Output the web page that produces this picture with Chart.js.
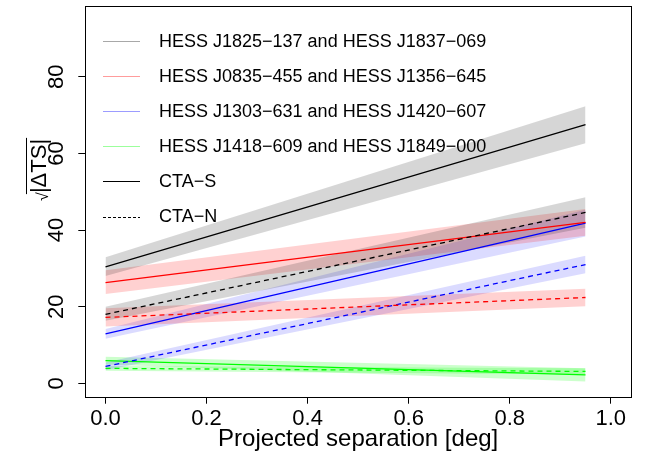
<!DOCTYPE html>
<html><head><meta charset="utf-8">
<script src="https://cdn.jsdelivr.net/npm/chart.js@4"></script>
<style>html,body{margin:0;padding:0;background:#fff}#wrap{width:654px;height:455px}</style>
</head><body><div id="wrap"><canvas id="c" width="654" height="455"></canvas></div>
<script>
// ---- data ----
const xSep = [0, 0.95];
const xTicks = [0, 0.2, 0.4, 0.6, 0.8, 1.0];
const yTicks = [0, 20, 40, 60, 80];
const pairNames = [
  "HESS J1825\u2212137 and HESS J1837\u2212069",
  "HESS J0835\u2212455 and HESS J1356\u2212645",
  "HESS J1303\u2212631 and HESS J1420\u2212607",
  "HESS J1418\u2212609 and HESS J1849\u2212000"
];
const arrayNames = ["CTA\u2212S", "CTA\u2212N"];
// sqrt|ΔTS| at x = 0 and x = 0.95 (central, lower, upper)
const j1825S = [30.4, 67.5], j1825S_lo = [28.0, 62.7], j1825S_hi = [32.9, 72.3];
const j1825N = [18.0, 44.6], j1825N_lo = [16.3, 40.6], j1825N_hi = [20.0, 48.6];
const j0835S = [26.3, 42.0], j0835S_lo = [23.3, 38.5], j0835S_hi = [29.5, 45.5];
const j0835N = [17.2, 22.4], j0835N_lo = [14.8, 20.1], j0835N_hi = [19.6, 24.7];
const j1303S = [12.9, 41.8], j1303S_lo = [11.6, 38.3], j1303S_hi = [14.2, 45.3];
const j1303N = [4.4, 31.0], j1303N_lo = [3.4, 28.7], j1303N_hi = [5.4, 33.3];
const j1418S = [5.9, 2.2], j1418S_lo = [4.9, 0.5], j1418S_hi = [6.9, 3.9];
const j1418N = [3.9, 3.1], j1418N_lo = [3.3, 2.3], j1418N_hi = [4.5, 3.9];

// ---- styles ----
const FONT = "'Liberation Sans', Arial, Helvetica, sans-serif";
const lineCols = ["#000000", "#ff0000", "#0000ff", "#00ff00"];
const bandCols = ["rgba(0,0,0,0.16)", "rgba(255,0,0,0.18)", "rgba(0,0,255,0.14)", "rgba(0,255,0,0.2)"];
const legendCols = ["#a8a8a8", "#ff9c9c", "#9c9cff", "#9cff9c"];

const series = [
  {c: 0, dash: false, mid: j1825S, lo: j1825S_lo, hi: j1825S_hi},
  {c: 0, dash: true,  mid: j1825N, lo: j1825N_lo, hi: j1825N_hi},
  {c: 1, dash: false, mid: j0835S, lo: j0835S_lo, hi: j0835S_hi},
  {c: 1, dash: true,  mid: j0835N, lo: j0835N_lo, hi: j0835N_hi},
  {c: 2, dash: false, mid: j1303S, lo: j1303S_lo, hi: j1303S_hi},
  {c: 2, dash: true,  mid: j1303N, lo: j1303N_lo, hi: j1303N_hi},
  {c: 3, dash: false, mid: j1418S, lo: j1418S_lo, hi: j1418S_hi},
  {c: 3, dash: true,  mid: j1418N, lo: j1418N_lo, hi: j1418N_hi}
];
const pts = arr => arr.map((v, i) => ({x: xSep[i], y: v}));

const datasets = [];
series.forEach(s => {
  datasets.push({data: pts(s.lo), borderWidth: 0, pointRadius: 0, fill: false, borderColor: 'rgba(0,0,0,0)'});
  datasets.push({data: pts(s.hi), borderWidth: 0, pointRadius: 0, fill: '-1', backgroundColor: bandCols[s.c], borderColor: 'rgba(0,0,0,0)'});
});
series.forEach(s => {
  datasets.push({data: pts(s.mid), borderWidth: 1.3, pointRadius: 0, fill: false,
    borderColor: lineCols[s.c], borderDash: s.dash ? [5, 4] : []});
});

const decor = {
  id: 'decor',
  afterDraw(chart) {
    const ctx = chart.ctx, a = chart.chartArea;
    const ys = chart.scales.y;
    ctx.save();
    // box
    ctx.strokeStyle = '#000'; ctx.lineWidth = 1;
    ctx.strokeRect(Math.round(a.left) + 0.5, Math.round(a.top) + 0.5,
      Math.round(a.right - a.left), Math.round(a.bottom - a.top));
    // y tick labels (rotated, as in R)
    ctx.fillStyle = '#000';
    ctx.font = "22px " + FONT;
    ctx.textAlign = 'center'; ctx.textBaseline = 'alphabetic';
    yTicks.forEach(v => {
      const py = ys.getPixelForValue(v);
      ctx.save(); ctx.translate(63, py); ctx.rotate(-Math.PI / 2);
      ctx.fillText(String(v), 0, 0); ctx.restore();
    });
    // x title
    ctx.font = "24px " + FONT;
    ctx.fillText("Projected separation [deg]", (a.left + a.right) / 2, 446);
    // y title: sqrt(|ΔTS|)
    ctx.save(); ctx.translate(46, 166); ctx.rotate(-Math.PI / 2);
    ctx.font = "22px " + FONT;
    const t = "|\u0394TS|";
    const tw = ctx.measureText(t).width;
    ctx.textAlign = 'left';
    ctx.fillText(t, -tw / 2, 0);
    ctx.font = "16px " + FONT;
    const rw = ctx.measureText("\u221a").width;
    ctx.fillText("\u221a", -tw / 2 - rw + 1, 2);
    ctx.strokeStyle = '#000'; ctx.lineWidth = 1;
    ctx.beginPath(); ctx.moveTo(-tw / 2 - 1, -19.5); ctx.lineTo(tw / 2 + 1, -19.5); ctx.stroke();
    ctx.restore();
    // legend
    ctx.font = "18px " + FONT;
    ctx.textAlign = 'left'; ctx.textBaseline = 'middle';
    const labels = pairNames.concat(arrayNames);
    labels.forEach((lab, i) => {
      const ly = 41 + i * 35.1;
      ctx.beginPath();
      ctx.lineWidth = 1;
      if (i < 4) { ctx.strokeStyle = legendCols[i]; ctx.setLineDash([]); }
      else { ctx.strokeStyle = '#000'; ctx.setLineDash(i === 5 ? [3, 2] : []); }
      ctx.moveTo(103, Math.round(ly) + 0.5); ctx.lineTo(140, Math.round(ly) + 0.5); ctx.stroke();
      ctx.setLineDash([]);
      ctx.fillStyle = '#000';
      ctx.fillText(lab, 159, ly + 1);
    });
    ctx.restore();
  }
};

new Chart(document.getElementById('c'), {
  type: 'line',
  data: {datasets},
  options: {
    responsive: false, animation: false, devicePixelRatio: 1,
    layout: {padding: {top: 6, right: 23, left: 0, bottom: 0}},
    plugins: {legend: {display: false}, tooltip: {enabled: false}, filler: {drawTime: 'beforeDatasetsDraw'}},
    scales: {
      x: {
        type: 'linear', min: -0.04, max: 1.04,
        afterBuildTicks: s => { s.ticks = xTicks.map(v => ({value: v})); },
        afterFit: s => { s.height = 58.3; },
        ticks: {font: {family: FONT, size: 22}, color: '#000', padding: 2, maxRotation: 0, minRotation: 0,
          callback: v => Number(v).toFixed(1)},
        grid: {drawOnChartArea: false, drawTicks: true, tickLength: 7, color: '#000', lineWidth: 1},
        border: {display: false}
      },
      y: {
        type: 'linear', min: -3.5, max: 98.5,
        afterBuildTicks: s => { s.ticks = yTicks.map(v => ({value: v})); },
        afterFit: s => { s.width = 85.3; },
        ticks: {display: false},
        grid: {drawOnChartArea: false, drawTicks: true, tickLength: 7, color: '#000', lineWidth: 1},
        border: {display: false}
      }
    }
  },
  plugins: [decor]
});
</script></body></html>
